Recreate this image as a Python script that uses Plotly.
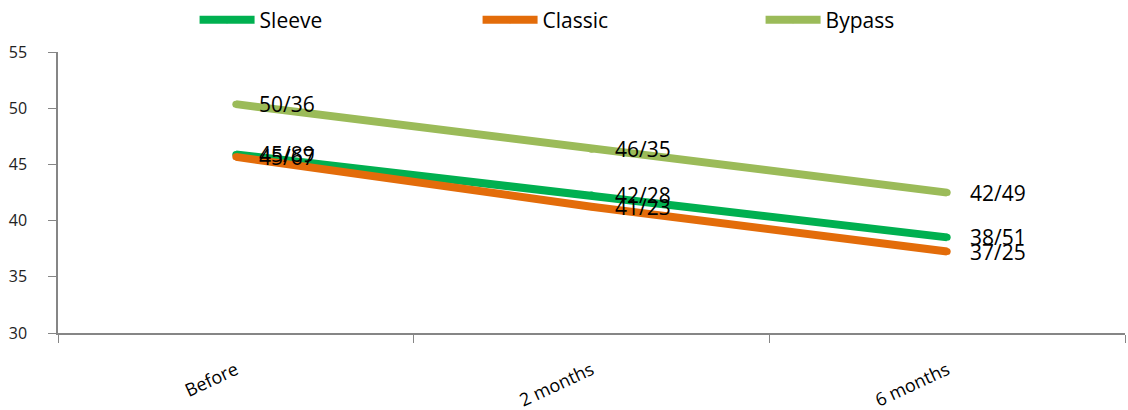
import plotly.graph_objects as go

categories = ["Before", "2 months", "6 months"]
sleeve = [45.89, 42.28, 38.51]
classic = [45.67, 41.23, 37.25]
bypass = [50.36, 46.35, 42.49]
y_ticks = [30, 35, 40, 45, 50, 55]

series = [
    ("Sleeve", sleeve, "#00B050"),
    ("Classic", classic, "#E36C0A"),
    ("Bypass", bypass, "#9BBB59"),
]

def fmt(v):
    return f"{v:.2f}".replace(".", "/")

fig = go.Figure()
annotations = []
for name, vals, color in series:
    fig.add_trace(go.Scatter(
        x=categories, y=vals, name=name, mode="lines+markers",
        line=dict(color=color, width=8),
        marker=dict(color=color, size=7, line=dict(width=0)),
    ))
    for c, v in zip(categories, vals):
        annotations.append(dict(
            x=c, y=v, text=fmt(v), showarrow=False, xanchor="left", yanchor="middle",
            xshift=21, font=dict(family="Open Sans", size=21, color="#000000"),
        ))

fig.update_layout(
    width=1128, height=410,
    margin=dict(l=58, r=3, t=52, b=77, autoexpand=False),
    paper_bgcolor="white", plot_bgcolor="white",
    font=dict(family="Open Sans", color="#222222"),
    annotations=annotations,
    showlegend=True,
    legend=dict(
        orientation="h", x=0.128, xanchor="left", y=0.951, yref="container", yanchor="middle",
        entrywidth=213, entrywidthmode="pixels", itemwidth=55,
        font=dict(family="Open Sans", size=21, color="#000000"),
        traceorder="normal", itemclick=False,
    ),
    xaxis=dict(
        type="category", range=[-0.5, 2.5], showgrid=False, showline=True,
        linecolor="#868686", linewidth=1.5, ticks="outside", tickson="boundaries",
        ticklen=8, tickcolor="#868686", tickangle=-25, automargin=False,
        tickfont=dict(family="Open Sans", size=18, color="#000000"),
        ticklabelstandoff=18,
    ),
    yaxis=dict(
        range=[30, 55], tickvals=y_ticks, showgrid=False, showline=True,
        linecolor="#868686", linewidth=1.5, ticks="outside", ticklen=8,
        tickcolor="#868686", zeroline=False, automargin=False,
        tickfont=dict(family="Open Sans", size=16, color="#222222"),
        ticklabelstandoff=18,
    ),
)

fig.write_html("out.html", config={"displayModeBar": False},
               post_script="document.body.style.margin='0';")
